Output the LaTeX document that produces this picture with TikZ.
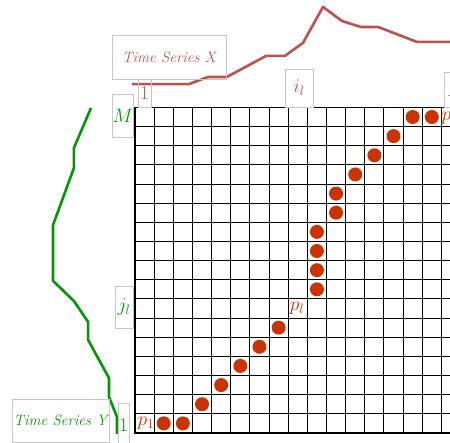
\RequirePackage{fix-cm}
\documentclass[tikz,border=0pt]{standalone}
\usepackage{fontspec}
\usepackage{amsmath}
\usepackage{xcolor}
\definecolor{serx}{HTML}{C0504D}
\definecolor{sery}{HTML}{009A00}
\definecolor{warp}{HTML}{CC3300}
\tikzset{
  lblbox/.style={draw=black!22,line width=0.7pt,inner sep=0pt},
  warpdot/.style={circle,fill=warp,inner sep=0pt,minimum size=14pt},
  serlbl/.style={font=\fontsize{15}{15}\selectfont\itshape},
  idxlbl/.style={font=\fontsize{19.5}{19.5}\selectfont}
}

\begin{document}
\begin{tikzpicture}[x=19.15pt,y=19.15pt]
\useasboundingbox (-7.05,-0.52) rectangle (16.45,22.61);
\clip (-7.05,-0.52) rectangle (16.45,22.61);
% cost matrix
\foreach \i in {1,...,16} {
  \draw[line width=1pt] (\i,0) -- (\i,17);
  \draw[line width=1pt] (0,\i) -- (17,\i);
}
\draw[line width=1.8pt] (17,17) -- (0,17) -- (0,0) -- (17,0);
% the two series
\draw[serx,line width=2.6pt,line join=round] plot coordinates {(-0.16,18.22) (2.82,18.22) (3.81,18.59) (4.80,18.59) (6.84,19.69) (7.83,19.69) (8.77,20.37) (9.82,22.25) (10.81,21.51) (11.80,21.20) (12.69,21.20) (14.73,20.42) (16.8,20.42)};
\draw[sery,line width=2.6pt,line join=round] plot coordinates {(-2.30,16.97) (-3.19,14.88) (-3.19,13.84) (-4.28,10.86) (-4.28,7.94) (-3.19,6.89) (-2.45,5.80) (-2.45,4.86) (-1.36,2.87) (-1.36,1.88) (-0.94,0.84) (-0.94,-0.05)};
% labels
\node[lblbox,serlbl,text=serx,minimum width=114pt,minimum height=44pt] (tsx) at (1.775,19.63) {Time Series X};
\node[lblbox,serlbl,text=sery,minimum width=97pt,minimum height=43pt] (tsy) at (-3.89,0.653) {Time Series Y};
\node[lblbox,idxlbl,text=serx,minimum width=13pt,minimum height=28pt] (xone) at (0.496,17.75) {1};
\node[lblbox,idxlbl,text=serx,minimum width=28pt,minimum height=38pt] (xil) at (8.56,18.02) {$i_l$};
\node[lblbox,idxlbl,text=serx,inner xsep=3pt,minimum height=35pt,anchor=west] (xn) at (16.14,17.94) {$N$};
\node[lblbox,idxlbl,text=sery,minimum width=12pt,minimum height=43pt] (ym) at (-0.627,16.58) {$M$};
\node[lblbox,idxlbl,text=sery,minimum width=18pt,minimum height=42pt] (yjl) at (-0.574,6.58) {$j_l$};
\node[lblbox,idxlbl,text=sery,minimum width=11pt,minimum height=44pt] (yone) at (-0.60,0.418) {1};
% warping path
\foreach \c/\r [count=\k] in {1/0,2/0,3/1,4/2,5/3,6/4,7/5,9/7,9/8,9/9,9/10,10/11,10/12,11/13,12/14,13/15,14/16,15/16}
  \node[warpdot] (w\k) at (\c+0.5,\r+0.5) {};
\node[idxlbl,text=warp,inner sep=0pt] (pone) at (0.57,0.52) {$p_1$};
\node[idxlbl,text=warp,inner sep=0pt] (pl) at (8.46,6.53) {$p_l$};
\node[idxlbl,text=warp,inner sep=0pt,anchor=west] (pend) at (16.0,16.45) {$p$};
\end{tikzpicture}
\end{document}
